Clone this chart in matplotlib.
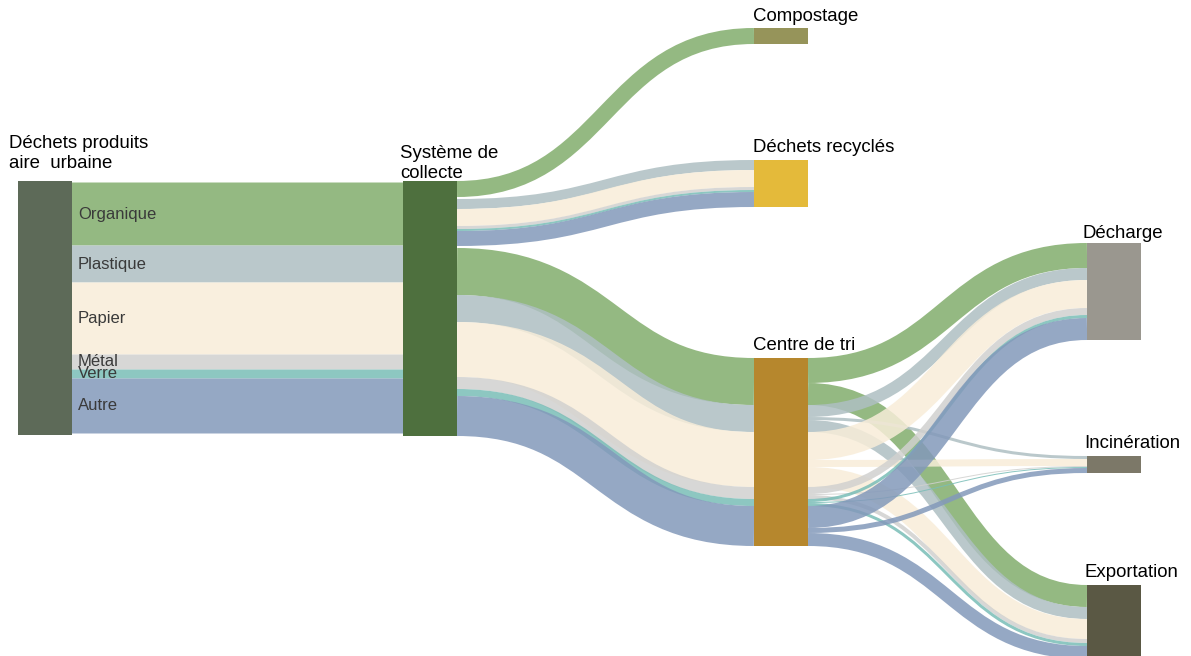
import matplotlib.pyplot as plt
from matplotlib.path import Path
from matplotlib.patches import PathPatch, Rectangle

plt.rcParams['font.family'] = ['Liberation Sans', 'DejaVu Sans']

# waste flows (same unit for every flow), one value per category
categories = ['Organique', 'Plastique', 'Papier', 'Métal', 'Verre', 'Autre']
to_compost = [16, 0, 0, 0, 0, 0]
to_recycled = [0, 10, 17, 3, 2, 15]
to_sorting = [47, 27, 55, 12, 7, 40]
sorting_landfill = [25, 12, 28, 7, 3, 22]
sorting_incineration = [0, 3, 7, 1, 1, 5]
sorting_export = [22, 12, 20, 4, 3, 13]

produced = [a + b + c for a, b, c in zip(to_compost, to_recycled, to_sorting)]

# colours as seen on white, links are drawn semi-transparent
cat_colors = ['#95b982', '#bac9cb', '#f9f0df', '#d8d8d6', '#8dc7c2', '#96a8c4']
LINK_ALPHA = 0.85

node_colors = {
    'source': '#5d6a58', 'collecte': '#4e703e', 'compost': '#96945a',
    'recycled': '#e4ba3a', 'sorting': '#b6872d', 'landfill': '#9a978f',
    'incineration': '#7c7868', 'export': '#5a5844',
}

# layout (pixels, 1 data unit = 1 pixel)
W, H = 1191, 656
scale = 1.0
node_w = 54
col_x = [18, 403, 754, 1087]
node_top = {
    'source': 181, 'collecte': 181, 'compost': 28, 'recycled': 160,
    'sorting': 358, 'landfill': 243, 'incineration': 456, 'export': 585,
}
node_col = {
    'source': 0, 'collecte': 1, 'compost': 2, 'recycled': 2, 'sorting': 2,
    'landfill': 3, 'incineration': 3, 'export': 3,
}


def solid(hex_color, alpha):
    # colour that gives hex_color once blended over white with alpha
    rgb = [int(hex_color[i:i + 2], 16) / 255 for i in (1, 3, 5)]
    return tuple(max(0, min(1, (c - (1 - alpha)) / alpha)) for c in rgb)


def link(ax, x0, y0, x1, y1, h, color):
    xm = (x0 + x1) / 2
    path = Path([(x0, y0), (xm, y0), (xm, y1), (x1, y1)],
                [Path.MOVETO, Path.CURVE4, Path.CURVE4, Path.CURVE4])
    ax.add_patch(PathPatch(path, fill=False, edgecolor=solid(color, LINK_ALPHA),
                           alpha=LINK_ALPHA, lw=h * 72 / 100, capstyle='butt'))


fig = plt.figure(figsize=(W / 100, H / 100), dpi=100)
ax = fig.add_axes([0, 0, 1, 1])
ax.set_xlim(0, W)
ax.set_ylim(H, 0)
ax.axis('off')


def right(n):
    return col_x[node_col[n]] + node_w


def left(n):
    return col_x[node_col[n]]


# source -> collection system (straight bands)
y_src = node_top['source'] + 1.5
for cat, v, c in zip(categories, produced, cat_colors):
    h = v * scale
    link(ax, right('source'), y_src + h / 2, left('collecte'), y_src + h / 2, h, c)
    ax.text(right('source') + 6, y_src + h / 2, cat, fontsize=12, color='#3a3a3a',
            va='center', ha='left')
    y_src += h

# collection system -> compost / recycled / sorting centre
out_y = node_top['collecte']
group_gap = 2
for target, values in [('compost', to_compost), ('recycled', to_recycled),
                       ('sorting', to_sorting)]:
    in_y = node_top[target]
    for v, c in zip(values, cat_colors):
        if v == 0:
            continue
        h = v * scale
        link(ax, right('collecte'), out_y + h / 2, left(target), in_y + h / 2, h, c)
        out_y += h
        in_y += h
    out_y += group_gap
collecte_h = out_y - group_gap - node_top['collecte']

# sorting centre -> landfill / incineration / export, grouped by category
sort_targets = [('landfill', sorting_landfill), ('incineration', sorting_incineration),
                ('export', sorting_export)]
in_pos = {t: node_top[t] for t, _ in sort_targets}
out_y = node_top['sorting']
for i, c in enumerate(cat_colors):
    for target, values in sort_targets:
        v = values[i]
        if v == 0:
            continue
        h = v * scale
        link(ax, right('sorting'), out_y + h / 2, left(target), in_pos[target] + h / 2, h, c)
        out_y += h
        in_pos[target] += h

# nodes
node_h = {
    'source': sum(produced) + 3, 'collecte': collecte_h,
    'compost': sum(to_compost), 'recycled': sum(to_recycled),
    'sorting': sum(to_sorting), 'landfill': sum(sorting_landfill),
    'incineration': sum(sorting_incineration), 'export': sum(sorting_export),
}
for n, top in node_top.items():
    ax.add_patch(Rectangle((left(n), top), node_w, node_h[n] * scale,
                           facecolor=node_colors[n], edgecolor='none', zorder=3))

# node labels (baseline of last line)
labels = [
    ('Déchets produits\naire  urbaine', 9, 168),
    ('Système de\ncollecte', 400, 178),
    ('Compostage', 753, 21),
    ('Déchets recyclés', 753, 152),
    ('Centre de tri', 753, 350),
    ('Décharge', 1083, 238),
    ('Incinération', 1084, 448),
    ('Exportation', 1084, 577),
]
for txt, x, y in labels:
    ax.text(x, y, txt, fontsize=13.4, color='black', va='baseline', ha='left',
            linespacing=1.25, zorder=4)

fig.savefig('out.png', dpi=100)
